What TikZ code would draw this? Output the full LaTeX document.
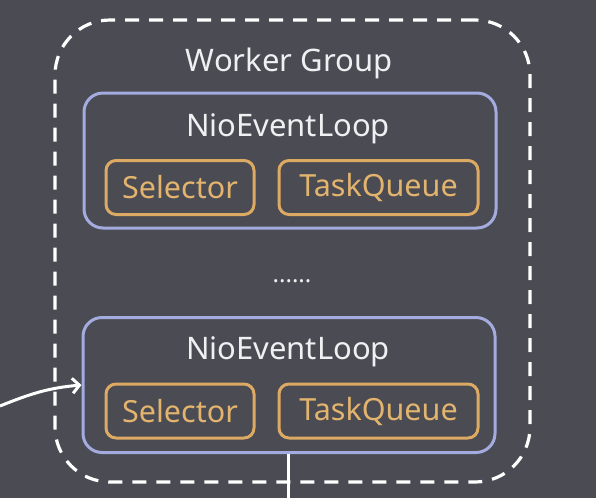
\documentclass[tikz,border=0pt]{standalone}
\usepackage{fontspec}
\setmainfont{Noto Sans}
\usetikzlibrary{arrows.meta}
\definecolor{bg}{HTML}{4A4B53}
\definecolor{loopline}{HTML}{A4ACDF}
\definecolor{gold}{HTML}{DCAA62}
\definecolor{goldtext}{HTML}{E3B46E}
\definecolor{wtext}{HTML}{F0F0F2}
\tikzset{
  loopbox/.style={draw=loopline,line width=3pt,rounded corners=19pt,minimum width=412pt,minimum height=135pt},
  partbox/.style={draw=gold,line width=3pt,rounded corners=10pt,minimum height=54pt,text=goldtext,font=\fontsize{30.5}{34}\selectfont},
  title/.style={text=wtext,font=\fontsize{31}{35}\selectfont},
}
\begin{document}
\begin{tikzpicture}[x=1pt,y=-1pt]
            \fill[bg] (0,0) rectangle (596,498);
            \useasboundingbox (0,0) rectangle (596,498);
            % worker group
            \node[draw=white,line width=3.2pt,dash pattern=on 14pt off 10pt,rounded corners=55pt,
                  minimum width=475pt,minimum height=462pt] (group) at (292.5,251) {};
            \node[title] (grouplabel) at (289,63) {Worker Group};
            % first loop
            \node[loopbox] (loopa) at (290,160.5) {};
            \node[title] (titlea) at (288,129) {NioEventLoop};
            \node[partbox,minimum width=148pt] (sela) at (180,187.5) {Selector};
            \node[partbox,minimum width=199pt] (taska) at (378.5,187.5) {TaskQueue};
            \node[title,font=\bfseries\fontsize{24}{28}\selectfont] (dots) at (292,281) {......};
            % second loop
            \node[loopbox] (loopb) at (289,385) {};
            \node[title] (titleb) at (288,352) {NioEventLoop};
            \node[partbox,minimum width=148pt] (selb) at (180,411) {Selector};
            \node[partbox,minimum width=199pt] (taskb) at (378.5,411) {TaskQueue};
            % connectors
            \coordinate (in) at (0,406);
            \coordinate (out) at (288,498);
            \draw[white,line width=3pt,-{Straight Barb[length=7pt,width=15pt]}] (in) to[out=22,in=185] (loopb.west);
            \draw[white,line width=3pt] (loopb.south -| out) -- (out);
         \end{tikzpicture}
\end{document}
